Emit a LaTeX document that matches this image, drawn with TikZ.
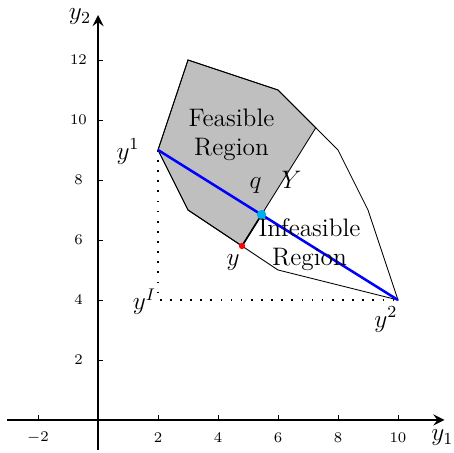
\documentclass[tikz,border=0pt]{standalone}
\usepackage{amsmath,amssymb}
\usepackage{xcolor}
\usepackage{tikz}
\usetikzlibrary{arrows,positioning,calc}

\begin{document}
\begin{tikzpicture}[
    x=0.5cm, y=0.5cm,
    font=\large,
    axis/.style={->, line width=1.3pt, >=stealth},
    edge/.style={thin},
    ticklabel/.style={font=\fontsize{7}{8}\selectfont, inner sep=1pt},
    guide/.style={loosely dotted, line width=0.8pt},
    segment/.style={very thick, blue},
    dotmark/.style={circle, inner sep=0pt, minimum size=#1}
]
\useasboundingbox (-3.267,-1.1) rectangle (11.867,14.0);

% Axes
\coordinate (xl) at (-3.05,0);
\coordinate (xr) at (11.55,0);
\coordinate (yb) at (0,-1);
\coordinate (yt) at (0,13.5);
\draw[axis] (xl) -- (xr);
\draw[axis] (yb) -- (yt);
\node (ax1) at (11.48,-0.6) {$y_1$};
\node (ax2) at (-0.6,13.45) {$y_2$};

% Ticks
\foreach \x in {-2,2,4,6,8,10} {
    \draw (\x,0) -- (\x,0.17);
    \node[ticklabel] at (\x,-0.6) {$\x$};
}
\foreach \y in {2,4,6,8,10,12} {
    \draw (0,\y) -- (0.15,\y);
    \node[ticklabel] at (-0.65,\y) {$\y$};
}

% Points of the region
\coordinate (y1) at (2,9);
\coordinate (y2) at (10,4);
\coordinate (yI) at (2,4);
\coordinate (p1) at (3,12);
\coordinate (p2) at (6,11);
\coordinate (p3) at (8,9);
\coordinate (p4) at (9,7);
\coordinate (p5) at (6,5);
\coordinate (p6) at (3,7);
\coordinate (cut) at (7.26,9.74);
\coordinate (yp) at (4.8,5.8);
\coordinate (qp) at (5.452,6.843);

% Feasible part
\filldraw[edge, fill=gray!50] (y1) -- (p1) -- (p2) -- (cut) -- (qp) -- (yp) -- (p6) -- cycle;
% Whole set Y
\draw[edge] (y1) -- (p1) -- (p2) -- (p3) -- (p4) -- (y2) -- (p5) -- (p6) -- cycle;

% Ideal point guides
\draw[guide] (y1) -- (yI) -- (y2);

% Segment between the two extreme points
\draw[segment] (y1) -- (y2);
\draw[thick] (yp) -- (qp);
\node[dotmark=4.5pt, fill=cyan] (qdot) at (qp) {};
\node[dotmark=3pt, fill=red] (ydot) at (yp) {};

% Labels
\node (ly1) at (1.0,8.95) {$y^1$};
\node (ly2) at (9.6,3.35) {$y^2$};
\node (lyI) at (1.55,3.95) {$y^I$};
\node (ly) at (4.5,5.25) {$y$};
\node (lq) at (5.25,7.8) {$q$};
\node (lY) at (6.45,8.0) {$Y$};
\node[align=center] (feas) at (4.45,9.5) {Feasible\\Region};
\node[align=center] (infeas) at (7.05,5.85) {Infeasible\\Region};

\end{tikzpicture}
\end{document}
